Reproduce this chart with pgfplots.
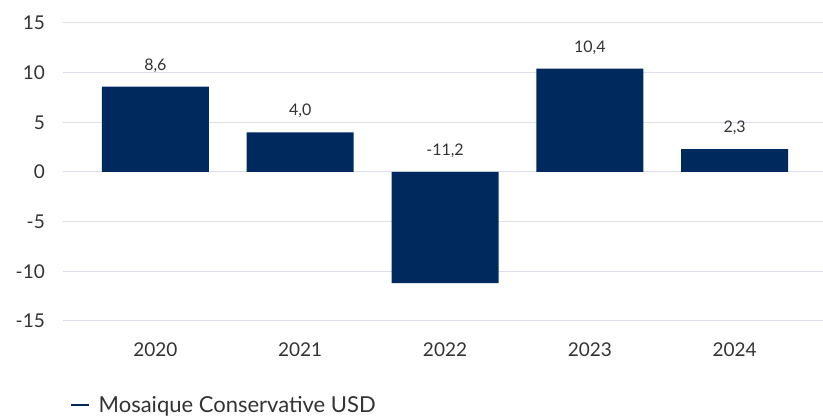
\documentclass[border=0pt]{standalone}
\usepackage{pgfplots}
\pgfplotsset{compat=1.18}
\usepackage{pgfplotstable}
\usepackage{fontspec}
\setmainfont{Lato}
\definecolor{navy}{RGB}{0,42,94}
\definecolor{gridc}{RGB}{220,222,236}
\definecolor{txt}{RGB}{51,51,51}
\pgfplotstableread{
x y ly
0 8.6 8.6
1 4.0 4.0
2 -11.2 0
3 10.4 10.4
4 2.3 2.3
}\datatable
\begin{document}
\begin{tikzpicture}
\useasboundingbox (0,0) rectangle (823pt,417pt);
\begin{axis}[
  at={(63pt,96pt)}, anchor=south west,
  scale only axis, width=760pt, height=298pt,
  xmin=-0.638, xmax=4.61, ymin=-15, ymax=15,
  ytick={-15,-10,...,15},
  xtick={0,1,2,3,4},
  xticklabels={2020,2021,2022,2023,2024},
  axis line style={draw=none}, tick style={draw=none},
  ymajorgrids, major grid style={gridc, line width=1pt},
  clip=false,
  yticklabel style={anchor=east, inner sep=0pt, xshift=-18pt, font=\fontsize{19}{22}\selectfont, text=txt},
  xticklabel style={anchor=center, inner sep=0pt, yshift=-29pt, font=\fontsize{19}{22}\selectfont, text=txt},
  /pgf/number format/assume math mode=true,
  legend style={at={(axis description cs:0.0092,-0.282)}, anchor=west, draw=none, fill=none, inner sep=0pt,
    font=\fontsize{22}{25}\selectfont, text=txt, nodes={inner xsep=8pt}},
  legend cell align=left,
]
\addplot[ybar, bar width=107pt, bar shift=0pt, fill=navy, draw=none,
  legend image code/.code={\draw[navy, line width=2.5pt] (0pt,0pt) -- (18pt,0pt);}]
  table[x=x, y=y] {\datatable};
\addlegendentry{Mosaique Conservative USD}
\addplot[draw=none, mark=none, forget plot,
  nodes near coords, point meta=explicit,
  nodes near coords style={anchor=center, yshift=21pt, font=\fontsize{16}{19}\selectfont, text=txt,
    /pgf/number format/.cd, fixed, fixed zerofill, precision=1, use comma, assume math mode=true}]
  table[x=x, y=ly, meta=y] {\datatable};
\end{axis}
\end{tikzpicture}
\end{document}
